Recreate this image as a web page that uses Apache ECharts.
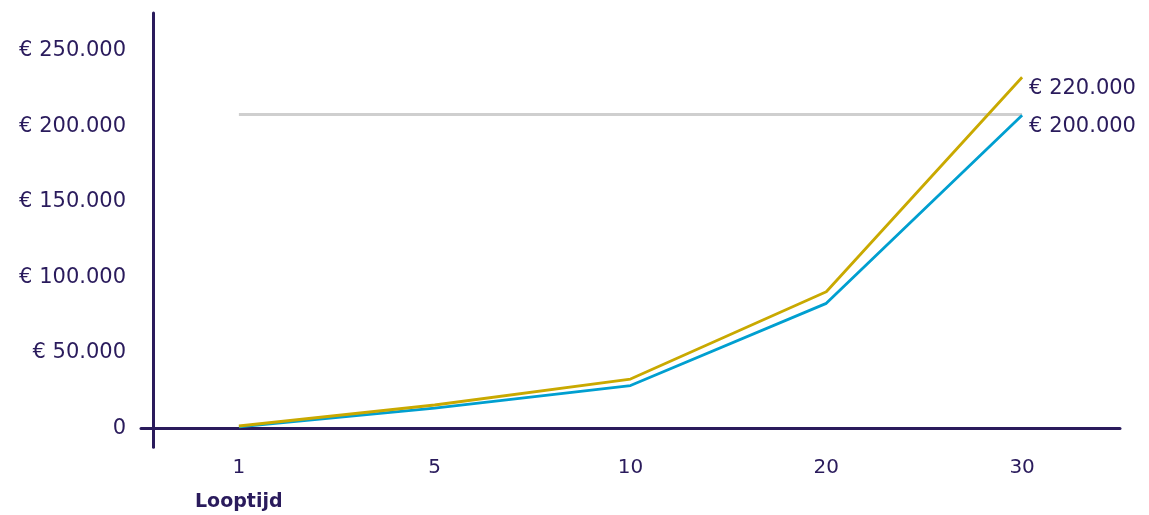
<!DOCTYPE html>
<html>
<head>
<meta charset="utf-8">
<script src="https://cdn.jsdelivr.net/npm/echarts@6/dist/echarts.min.js"></script>
<style>
  html, body { margin: 0; padding: 0; background: #ffffff; }
  #chart { width: 1149px; height: 515px; }
</style>
</head>
<body>
<div id="chart"></div>
<script>
// ---- data ----
var categories = ['1', '5', '10', '20', '30'];
var yellowValues = [1600, 15500, 32700, 90500, 232500];
var blueValues = [1000, 13500, 28400, 82800, 207300];
var referenceValue = 208000;
var yTickValues = [0, 50000, 100000, 150000, 200000, 250000];
var yTickLabels = ['0', '€ 50.000', '€ 100.000', '€ 150.000', '€ 200.000', '€ 250.000'];
var endLabels = ['€ 220.000', '€ 200.000'];
var xAxisTitle = 'Looptijd';

var navy = '#2a1b5c';
var font = 'DejaVu Sans';

var chart = echarts.init(document.getElementById('chart'), null, { renderer: 'canvas' });
chart.setOption({
  animation: false,
  backgroundColor: '#ffffff',
  grid: { left: 141, right: 29, top: 13, bottom: 67.7, containLabel: false },
  xAxis: {
    type: 'category',
    data: categories,
    boundaryGap: true,
    axisLine: { show: true, onZero: true, lineStyle: { color: navy, width: 3 } },
    axisTick: { show: false },
    axisLabel: { color: navy, fontFamily: font, fontSize: 20, margin: 10 },
    splitLine: { show: false }
  },
  yAxis: {
    type: 'value',
    min: -12500,
    max: 275000,
    offset: -12,
    axisLine: { show: true, lineStyle: { color: navy, width: 3 } },
    axisTick: { show: false },
    splitLine: { show: false },
    axisLabel: {
      customValues: yTickValues,
      color: navy,
      fontFamily: font,
      fontSize: 21,
      margin: 27,
      formatter: function (v) {
        var i = yTickValues.indexOf(v);
        return i >= 0 ? yTickLabels[i] : '';
      }
    }
  },
  graphic: [{
    type: 'text',
    left: 195,
    top: 493,
    style: { text: xAxisTitle, fill: navy, font: 'bold 19px "DejaVu Sans"' }
  }],
  series: [
    {
      name: 'Blauw',
      type: 'line',
      data: blueValues,
      symbol: 'none',
      z: 3,
      lineStyle: { color: '#009fd0', width: 2.8 },
      endLabel: {
        show: true,
        formatter: endLabels[1],
        color: navy,
        fontFamily: font,
        fontSize: 21,
        distance: 7,
        offset: [0, 11]
      },
      markLine: {
        silent: true,
        symbol: 'none',
        label: { show: false },
        lineStyle: { color: '#cfcfcf', width: 2.8, type: 'solid' },
        data: [[{ coord: [0, referenceValue] }, { coord: [4, referenceValue] }]],
        z: 1
      }
    },
    {
      name: 'Geel',
      type: 'line',
      data: yellowValues,
      symbol: 'none',
      z: 4,
      lineStyle: { color: '#c9a900', width: 2.8 },
      endLabel: {
        show: true,
        formatter: endLabels[0],
        color: navy,
        fontFamily: font,
        fontSize: 21,
        distance: 7,
        offset: [0, 11]
      }
    }
  ]
});
</script>
</body>
</html>
